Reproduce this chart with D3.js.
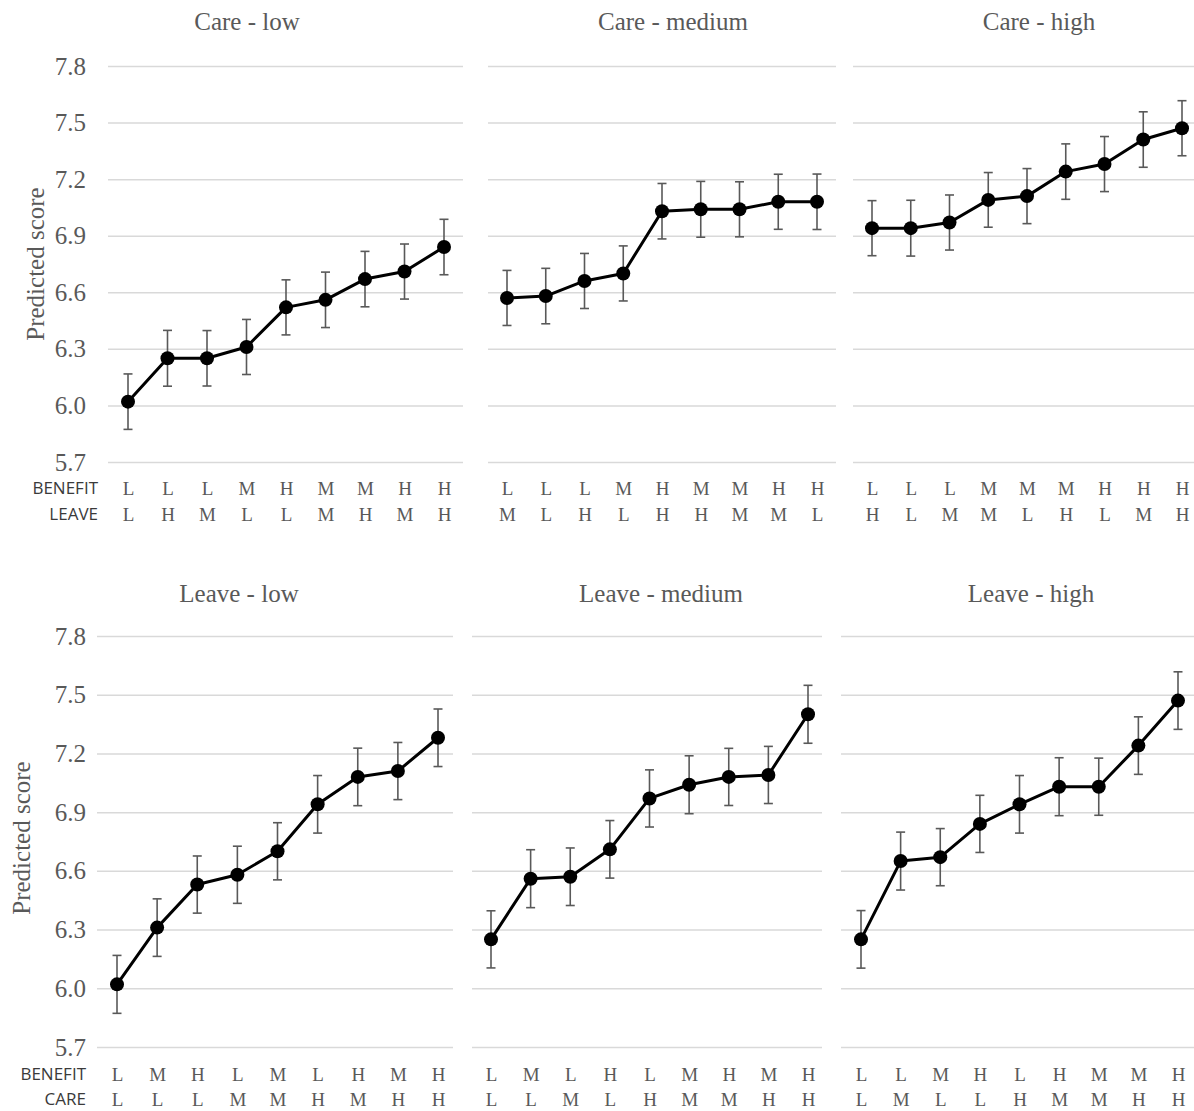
<!DOCTYPE html>
<html>
<head>
<meta charset="utf-8">
<script src="https://cdn.jsdelivr.net/npm/d3@7"></script>
<style>
  body { margin: 0; background: #fff; }
  svg { display: block; }
</style>
</head>
<body>
<div id="chart"></div>
<script>
// tick values shared by every panel
const yTicks = [5.7, 6.0, 6.3, 6.6, 6.9, 7.2, 7.5, 7.8];

// panel titles
const topTitles = ['Care - low', 'Care - medium', 'Care - high'];
const bottomTitles = ['Leave - low', 'Leave - medium', 'Leave - high'];

// row names under the x axis
const topRowNames = ['BENEFIT', 'LEAVE'];
const bottomRowNames = ['BENEFIT', 'CARE'];

// Care - low
const careLowBenefit = ['L', 'L', 'L', 'M', 'H', 'M', 'M', 'H', 'H'];
const careLowLeave   = ['L', 'H', 'M', 'L', 'L', 'M', 'H', 'M', 'H'];
const careLowScore   = [6.02, 6.25, 6.25, 6.31, 6.52, 6.56, 6.67, 6.71, 6.84];
const careLowErr     = [0.147, 0.148, 0.147, 0.146, 0.146, 0.147, 0.147, 0.146, 0.147];

// Care - medium
const careMedBenefit = ['L', 'L', 'L', 'M', 'H', 'M', 'M', 'H', 'H'];
const careMedLeave   = ['M', 'L', 'H', 'L', 'H', 'H', 'M', 'M', 'L'];
const careMedScore   = [6.57, 6.58, 6.66, 6.70, 7.03, 7.04, 7.04, 7.08, 7.08];
const careMedErr     = [0.146, 0.147, 0.146, 0.146, 0.147, 0.148, 0.146, 0.146, 0.147];

// Care - high
const careHighBenefit = ['L', 'L', 'L', 'M', 'M', 'M', 'H', 'H', 'H'];
const careHighLeave   = ['H', 'L', 'M', 'M', 'L', 'H', 'L', 'M', 'H'];
const careHighScore   = [6.94, 6.94, 6.97, 7.09, 7.11, 7.24, 7.28, 7.41, 7.47];
const careHighErr     = [0.146, 0.148, 0.146, 0.145, 0.146, 0.147, 0.146, 0.147, 0.146];

// Leave - low
const leaveLowBenefit = ['L', 'M', 'H', 'L', 'M', 'L', 'H', 'M', 'H'];
const leaveLowCare    = ['L', 'L', 'L', 'M', 'M', 'H', 'M', 'H', 'H'];
const leaveLowScore   = [6.02, 6.31, 6.53, 6.58, 6.70, 6.94, 7.08, 7.11, 7.28];
const leaveLowErr     = [0.148, 0.147, 0.146, 0.146, 0.146, 0.147, 0.147, 0.146, 0.147];

// Leave - medium
const leaveMedBenefit = ['L', 'M', 'L', 'H', 'L', 'M', 'H', 'M', 'H'];
const leaveMedCare    = ['L', 'L', 'M', 'L', 'H', 'M', 'M', 'H', 'H'];
const leaveMedScore   = [6.25, 6.56, 6.57, 6.71, 6.97, 7.04, 7.08, 7.09, 7.40];
const leaveMedErr     = [0.146, 0.148, 0.147, 0.147, 0.146, 0.148, 0.146, 0.146, 0.148];

// Leave - high
const leaveHighBenefit = ['L', 'L', 'M', 'H', 'L', 'H', 'M', 'M', 'H'];
const leaveHighCare    = ['L', 'M', 'L', 'L', 'H', 'M', 'M', 'H', 'H'];
const leaveHighScore   = [6.25, 6.65, 6.67, 6.84, 6.94, 7.03, 7.03, 7.24, 7.47];
const leaveHighErr     = [0.147, 0.148, 0.146, 0.146, 0.147, 0.148, 0.146, 0.147, 0.147];

const width = 1194;
const height = 1111;

const serif = '"Liberation Serif", "Times New Roman", serif';
const sans = '"Open Sans", "Noto Sans", sans-serif';
const textGrey = '#595959';
const gridGrey = '#d9d9d9';

const svg = d3.select('#chart')
  .append('svg')
  .attr('width', width)
  .attr('height', height)
  .attr('viewBox', `0 0 ${width} ${height}`);

// layout of the two rows
const rows = [
  {
    yRange: [462, 66], labelY: [488, 514], titleY: 30, rowNames: topRowNames, rowNameX: 98,
    yLabelX: 35, yLabelY: 264,
    panels: [
      { title: topTitles[0], titleX: 247, grid: [108, 463], pts: [128, 444], a: careLowBenefit, b: careLowLeave, v: careLowScore, e: careLowErr },
      { title: topTitles[1], titleX: 673, grid: [488, 836], pts: [507, 817], a: careMedBenefit, b: careMedLeave, v: careMedScore, e: careMedErr },
      { title: topTitles[2], titleX: 1039, grid: [853, 1194], pts: [872, 1182], a: careHighBenefit, b: careHighLeave, v: careHighScore, e: careHighErr }
    ]
  },
  {
    yRange: [1047, 636], labelY: [1074, 1099], titleY: 602, rowNames: bottomRowNames, rowNameX: 86,
    yLabelX: 21, yLabelY: 838,
    panels: [
      { title: bottomTitles[0], titleX: 239, grid: [97, 453], pts: [117, 438], a: leaveLowBenefit, b: leaveLowCare, v: leaveLowScore, e: leaveLowErr },
      { title: bottomTitles[1], titleX: 661, grid: [472, 822], pts: [491, 808], a: leaveMedBenefit, b: leaveMedCare, v: leaveMedScore, e: leaveMedErr },
      { title: bottomTitles[2], titleX: 1031, grid: [841, 1194], pts: [861, 1178], a: leaveHighBenefit, b: leaveHighCare, v: leaveHighScore, e: leaveHighErr }
    ]
  }
];

rows.forEach(row => {
  const y = d3.scaleLinear().domain([5.7, 7.8]).range(row.yRange);

  // y tick labels (left panel only)
  svg.append('g')
    .attr('transform', `translate(86,0)`)
    .call(d3.axisLeft(y).tickValues(yTicks).tickFormat(d3.format('.1f')).tickSize(0).tickPadding(0))
    .call(g => g.select('.domain').remove())
    .call(g => g.selectAll('text')
      .attr('font-family', serif)
      .attr('font-size', 25)
      .attr('fill', textGrey)
      .attr('dy', '0.32em'));

  // y axis title
  svg.append('text')
    .attr('transform', `translate(${row.yLabelX},${row.yLabelY}) rotate(-90)`)
    .attr('text-anchor', 'middle')
    .attr('dy', '0.35em')
    .attr('font-family', serif)
    .attr('font-size', 25)
    .attr('fill', textGrey)
    .text('Predicted score');

  // row names
  row.rowNames.forEach((name, i) => {
    svg.append('text')
      .attr('x', row.rowNameX)
      .attr('y', row.labelY[i])
      .attr('dy', '0.35em')
      .attr('text-anchor', 'end')
      .attr('font-family', sans)
      .attr('font-size', 17)
      .attr('fill', '#3a3a3a')
      .text(name);
  });

  row.panels.forEach(p => {
    const x = d3.scalePoint().domain(d3.range(p.v.length)).range(p.pts);
    const g = svg.append('g');

    // title
    g.append('text')
      .attr('x', p.titleX)
      .attr('y', row.titleY)
      .attr('text-anchor', 'middle')
      .attr('font-family', serif)
      .attr('font-size', 25)
      .attr('fill', textGrey)
      .text(p.title);

    // gridlines
    g.append('g')
      .attr('transform', `translate(${p.grid[0]},0)`)
      .call(d3.axisLeft(y).tickValues(yTicks).tickFormat('').tickSize(-(p.grid[1] - p.grid[0])))
      .call(g => g.select('.domain').remove())
      .call(g => g.selectAll('.tick line').attr('stroke', gridGrey).attr('stroke-width', 1.5));

    // category labels, two rows
    [p.a, p.b].forEach((labels, r) => {
      g.append('g')
        .attr('transform', `translate(0,${row.labelY[r]})`)
        .call(d3.axisBottom(x).tickFormat(i => labels[i]).tickSize(0).tickPadding(0))
        .call(g => g.select('.domain').remove())
        .call(g => g.selectAll('text')
          .attr('y', 0)
          .attr('dy', '0.35em')
          .attr('font-family', serif)
          .attr('font-size', 19)
          .attr('fill', textGrey));
    });

    // error bars
    const eb = g.append('g')
      .attr('stroke', '#595959')
      .attr('stroke-width', 1.6)
      .selectAll('g')
      .data(p.v)
      .join('g');
    eb.append('line')
      .attr('x1', (d, i) => x(i)).attr('x2', (d, i) => x(i))
      .attr('y1', (d, i) => y(d - p.e[i])).attr('y2', (d, i) => y(d + p.e[i]));
    eb.append('line')
      .attr('x1', (d, i) => x(i) - 4.5).attr('x2', (d, i) => x(i) + 4.5)
      .attr('y1', (d, i) => y(d + p.e[i])).attr('y2', (d, i) => y(d + p.e[i]));
    eb.append('line')
      .attr('x1', (d, i) => x(i) - 4.5).attr('x2', (d, i) => x(i) + 4.5)
      .attr('y1', (d, i) => y(d - p.e[i])).attr('y2', (d, i) => y(d - p.e[i]));

    // line
    const line = d3.line()
      .x((d, i) => x(i))
      .y(d => y(d));
    g.append('path')
      .datum(p.v)
      .attr('fill', 'none')
      .attr('stroke', '#000')
      .attr('stroke-width', 3)
      .attr('stroke-linejoin', 'round')
      .attr('d', line);

    // markers
    g.append('g')
      .selectAll('circle')
      .data(p.v)
      .join('circle')
      .attr('cx', (d, i) => x(i))
      .attr('cy', d => y(d))
      .attr('r', 7)
      .attr('fill', '#000');
  });
});
</script>
</body>
</html>
